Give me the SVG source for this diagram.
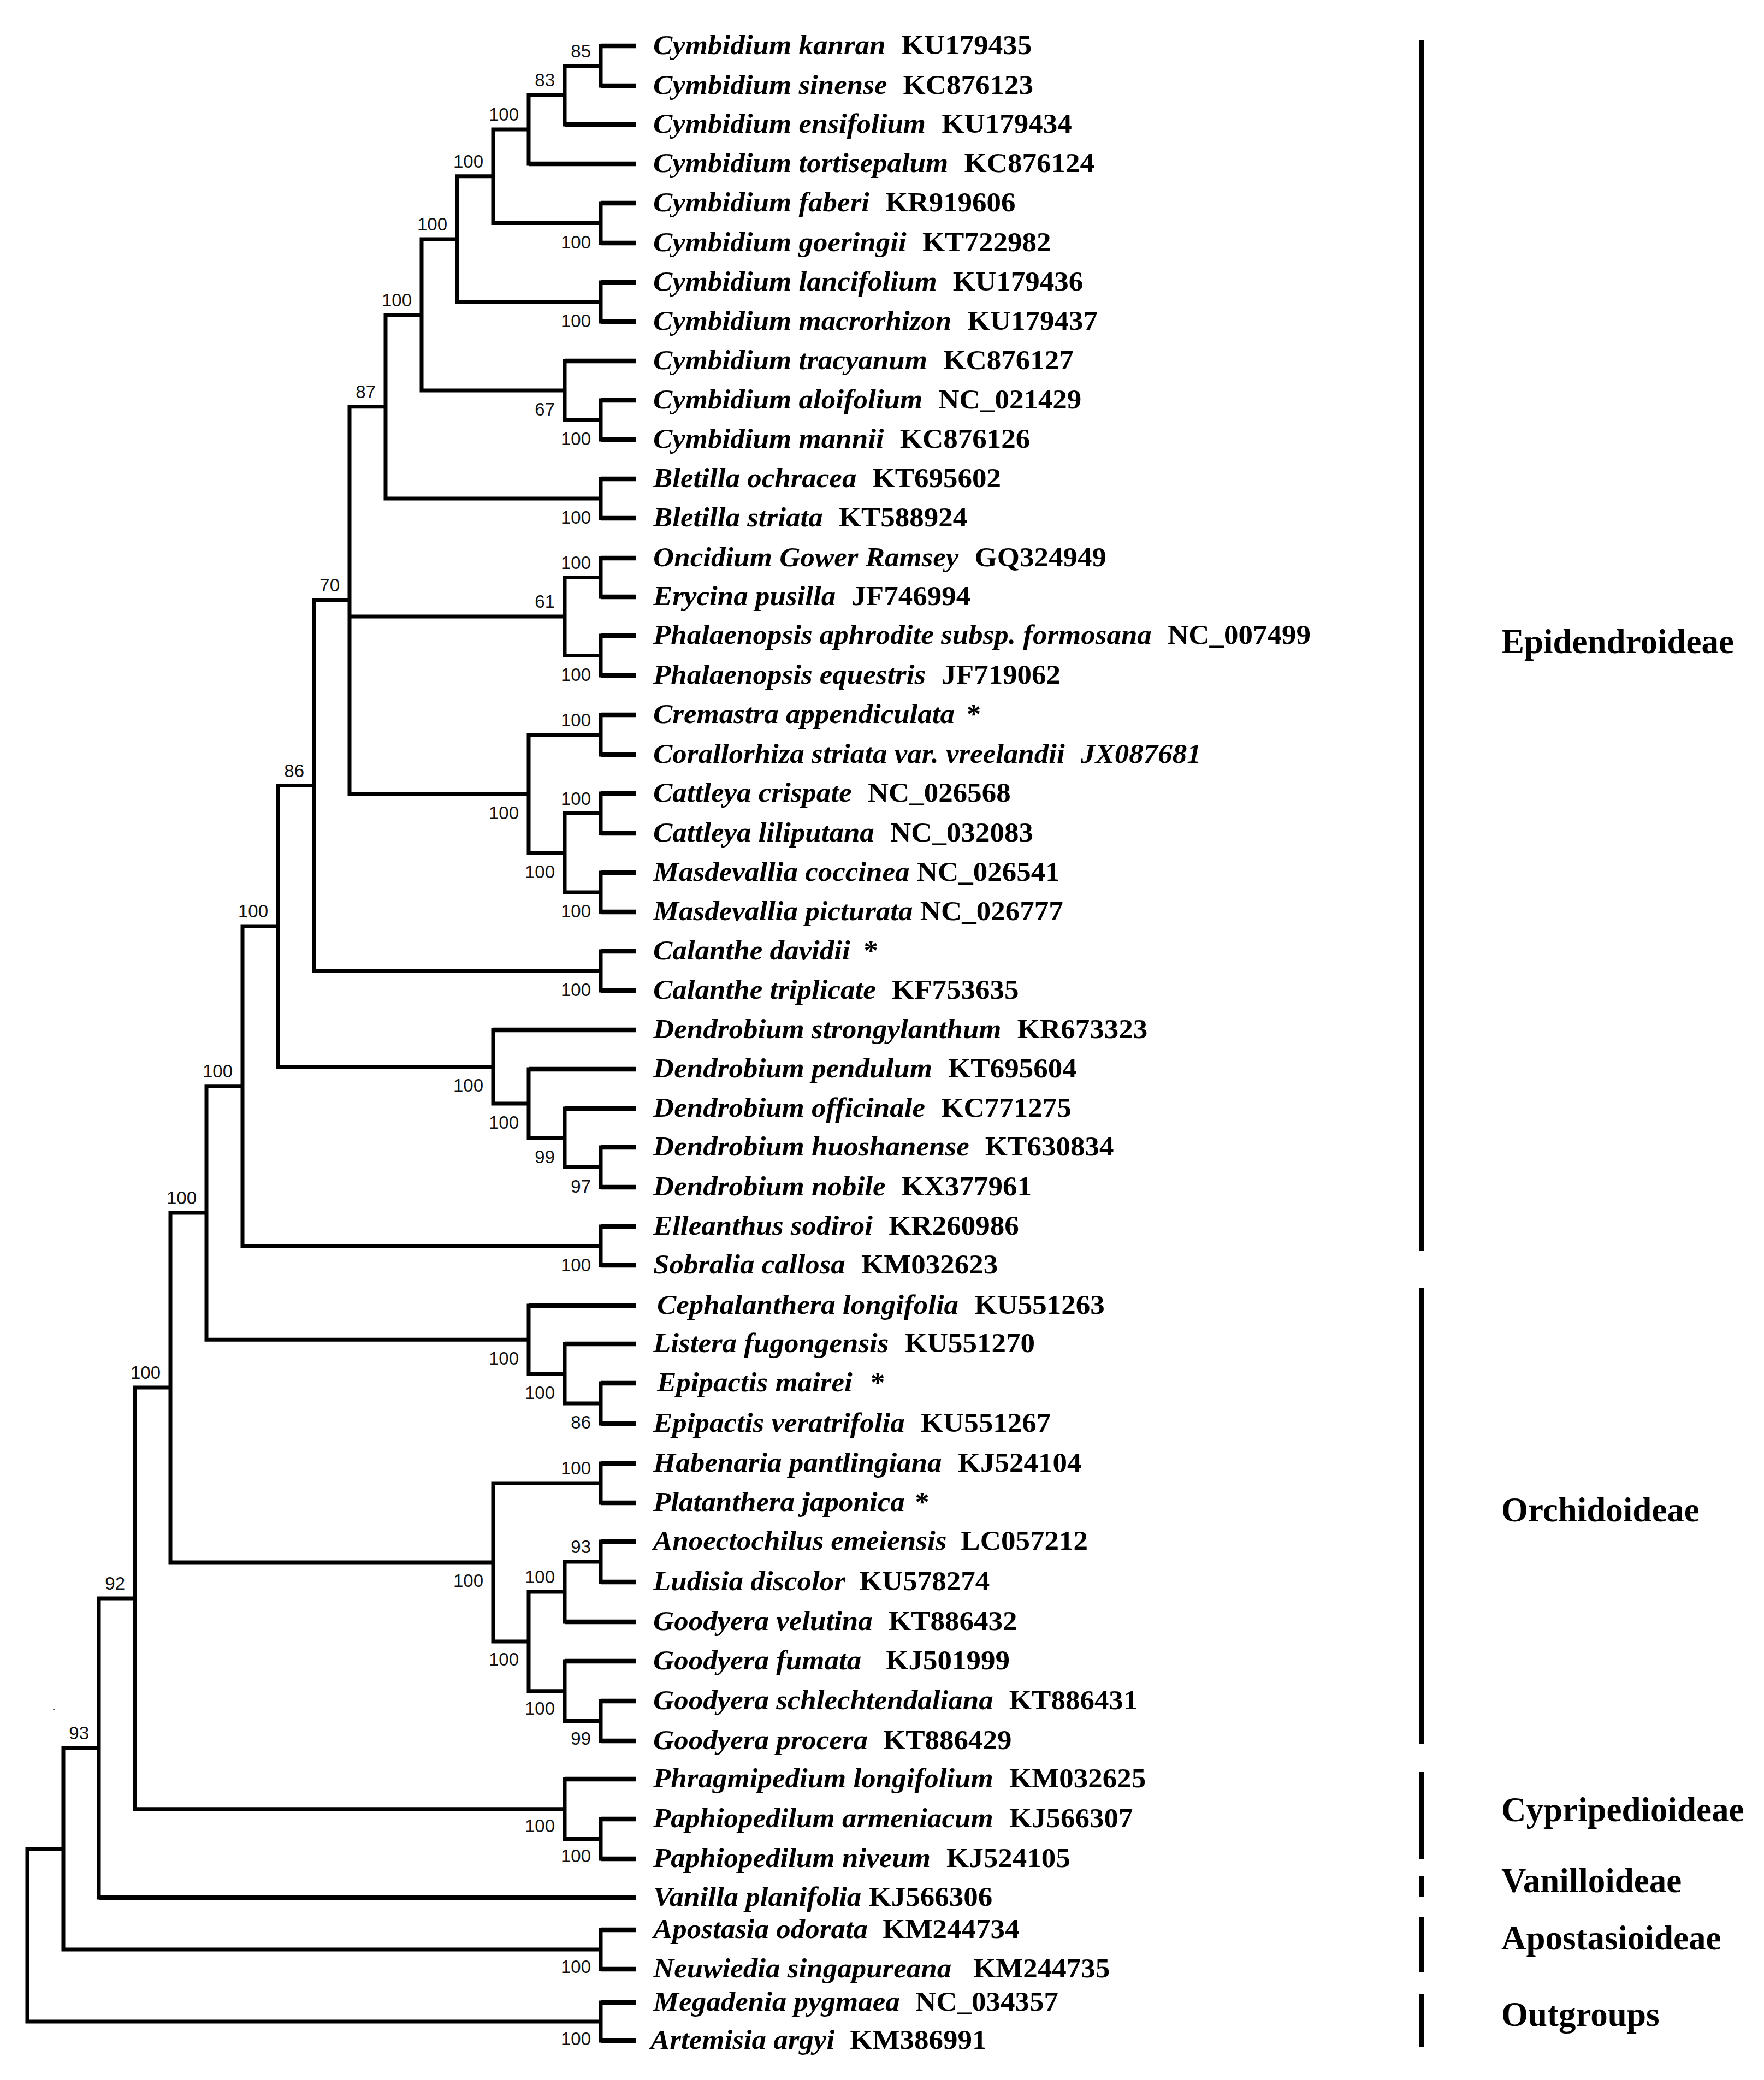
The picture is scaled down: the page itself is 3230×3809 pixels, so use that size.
<svg xmlns="http://www.w3.org/2000/svg" width="3230" height="3809" viewBox="0 0 3230 3809">
<style>
.br{fill:none;stroke:#000;stroke-width:7;stroke-linecap:square}
.tp{fill:none;stroke:#000;stroke-width:8.5;stroke-linecap:butt}
.bs{font-family:"Liberation Sans",Arial,sans-serif;font-size:33px;fill:#111;text-anchor:end}
.tl{font-family:"Liberation Serif","Times New Roman",serif;font-size:50px;font-weight:bold;fill:#000}
.sp{font-style:italic}
.acc{font-style:normal}
.grp{font-family:"Liberation Serif","Times New Roman",serif;font-size:63px;font-weight:bold;fill:#000}
.bk{fill:#000}
</style>
<rect width="3230" height="3809" fill="#fff"/>
<g id="connectors">
<path class="br" d="M1100 84V157 M1034 120.5V228 M1034 120.5H1100 M968 174.25V300 M968 174.25H1034 M1100 372V445 M903 237.1V408.5 M903 237.1H968 M903 408.5H1100 M1100 517V589 M837 322.8V553 M837 322.8H903 M837 553H1100 M1100 733V805 M1034 661V769 M1034 769H1100 M772 437.9V715 M772 437.9H837 M772 715H1034 M1100 877V949 M706 576.5V913 M706 576.5H772 M706 913H1100 M1100 1022V1093 M1100 1164V1237 M1034 1057.5V1200.5 M1034 1057.5H1100 M1034 1200.5H1100 M1100 1309V1382 M1100 1453V1526 M1100 1598V1670 M1034 1489.5V1634 M1034 1489.5H1100 M1034 1634H1100 M968 1345.5V1561.75 M968 1345.5H1100 M968 1561.75H1034 M640 744.7V1453.6 M640 744.7H706 M640 1129H1034 M640 1453.6H968 M1100 1742V1814 M575 1099.2V1778 M575 1099.2H640 M575 1778H1100 M1100 2101V2174 M1034 2030V2137.5 M1034 2137.5H1100 M968 1958V2083.75 M968 2083.75H1034 M903 1886V2020.9 M903 2020.9H968 M509 1438.6V1953.4 M509 1438.6H575 M509 1953.4H903 M1100 2246V2317 M444 1696V2281.5 M444 1696H509 M444 2281.5H1100 M1100 2533V2607 M1034 2461V2570 M1034 2570H1100 M968 2391V2515.5 M968 2515.5H1034 M378 1988.75V2453.25 M378 1988.75H444 M378 2453.25H968 M1100 2680V2752 M1100 2823V2897 M1034 2860V2970 M1034 2860H1100 M1100 3115V3188 M1034 3042V3151.5 M1034 3151.5H1100 M968 2915V3096.75 M968 2915H1034 M968 3096.75H1034 M903 2716V3005.9 M903 2716H1100 M903 3005.9H968 M312 2221V2861 M312 2221H378 M312 2861H903 M1100 3331V3404 M1034 3258V3367.5 M1034 3367.5H1100 M247 2541V3312.75 M247 2541H312 M247 3312.75H1034 M181 2926.9V3475 M181 2926.9H247 M1100 3534V3606 M116 3201V3570 M116 3201H181 M116 3570H1100 M1100 3667V3737 M50 3385.5V3702 M50 3385.5H116 M50 3702H1100"/>
<path class="tp" d="M1100 84H1164 M1100 157H1164 M1034 228H1164 M968 300H1164 M1100 372H1164 M1100 445H1164 M1100 517H1164 M1100 589H1164 M1034 661H1164 M1100 733H1164 M1100 805H1164 M1100 877H1164 M1100 949H1164 M1100 1022H1164 M1100 1093H1164 M1100 1164H1164 M1100 1237H1164 M1100 1309H1164 M1100 1382H1164 M1100 1453H1164 M1100 1526H1164 M1100 1598H1164 M1100 1670H1164 M1100 1742H1164 M1100 1814H1164 M903 1886H1164 M968 1958H1164 M1034 2030H1164 M1100 2101H1164 M1100 2174H1164 M1100 2246H1164 M1100 2317H1164 M968 2391H1164 M1034 2461H1164 M1100 2533H1164 M1100 2607H1164 M1100 2680H1164 M1100 2752H1164 M1100 2823H1164 M1100 2897H1164 M1034 2970H1164 M1034 3042H1164 M1100 3115H1164 M1100 3188H1164 M1034 3258H1164 M1100 3331H1164 M1100 3404H1164 M181 3475H1164 M1100 3534H1164 M1100 3606H1164 M1100 3667H1164 M1100 3737H1164"/>
<rect x="97" y="3129" width="3" height="3" fill="#555"/>
</g>
<g id="bootstrap">
<g id="node-A"><text class="bs" x="1082" y="104.5">85</text></g>
<g id="node-B"><text class="bs" x="1016" y="158">83</text></g>
<g id="node-C"><text class="bs" x="950" y="221">100</text></g>
<g id="node-D"><text class="bs" x="1082" y="454.5">100</text></g>
<g id="node-E"><text class="bs" x="885" y="306.8">100</text></g>
<g id="node-F"><text class="bs" x="1082" y="599">100</text></g>
<g id="node-G"><text class="bs" x="819" y="421.9">100</text></g>
<g id="node-H"><text class="bs" x="1082" y="815">100</text></g>
<g id="node-I"><text class="bs" x="1016" y="761">67</text></g>
<g id="node-J"><text class="bs" x="754" y="560.5">100</text></g>
<g id="node-K"><text class="bs" x="1082" y="959">100</text></g>
<g id="node-L"><text class="bs" x="688" y="728.7">87</text></g>
<g id="node-M"><text class="bs" x="1082" y="1041.5">100</text></g>
<g id="node-N"><text class="bs" x="1082" y="1246.5">100</text></g>
<g id="node-O"><text class="bs" x="1016" y="1113">61</text></g>
<g id="node-P"><text class="bs" x="1082" y="1329.5">100</text></g>
<g id="node-Q"><text class="bs" x="1082" y="1473.5">100</text></g>
<g id="node-R"><text class="bs" x="1082" y="1680">100</text></g>
<g id="node-S"><text class="bs" x="1016" y="1607.75">100</text></g>
<g id="node-U"><text class="bs" x="950" y="1499.6">100</text></g>
<g id="node-V"><text class="bs" x="622" y="1083.2">70</text></g>
<g id="node-W"><text class="bs" x="1082" y="1824">100</text></g>
<g id="node-X"><text class="bs" x="557" y="1422.6">86</text></g>
<g id="node-Dd"><text class="bs" x="1082" y="2183.5">97</text></g>
<g id="node-Dc"><text class="bs" x="1016" y="2129.75">99</text></g>
<g id="node-Db"><text class="bs" x="950" y="2066.9">100</text></g>
<g id="node-Da"><text class="bs" x="885" y="1999.4">100</text></g>
<g id="node-Y"><text class="bs" x="491" y="1680">100</text></g>
<g id="node-Z"><text class="bs" x="1082" y="2327.5">100</text></g>
<g id="node-AA"><text class="bs" x="426" y="1972.75">100</text></g>
<g id="node-Ep"><text class="bs" x="1082" y="2616">86</text></g>
<g id="node-Ls"><text class="bs" x="1016" y="2561.5">100</text></g>
<g id="node-Ce"><text class="bs" x="950" y="2499.25">100</text></g>
<g id="node-AB"><text class="bs" x="360" y="2205">100</text></g>
<g id="node-Hb"><text class="bs" x="1082" y="2700">100</text></g>
<g id="node-An"><text class="bs" x="1082" y="2844">93</text></g>
<g id="node-Gv"><text class="bs" x="1016" y="2899">100</text></g>
<g id="node-Gs"><text class="bs" x="1082" y="3195">99</text></g>
<g id="node-Gf"><text class="bs" x="1016" y="3140">100</text></g>
<g id="node-Gg"><text class="bs" x="950" y="3050">100</text></g>
<g id="node-Or"><text class="bs" x="885" y="2906">100</text></g>
<g id="node-AC"><text class="bs" x="294" y="2525">100</text></g>
<g id="node-Pa"><text class="bs" x="1082" y="3410">100</text></g>
<g id="node-Cy"><text class="bs" x="1016" y="3355">100</text></g>
<g id="node-AD"><text class="bs" x="229" y="2910.9">92</text></g>
<g id="node-AE"><text class="bs" x="163" y="3185">93</text></g>
<g id="node-Ap"><text class="bs" x="1082" y="3613">100</text></g>
<g id="node-Og"><text class="bs" x="1082" y="3745">100</text></g>
</g>
<g id="tips">
<g id="tip-01" transform="translate(1196,99) scale(1.06,1)"><text class="tl"><tspan class="sp">Cymbidium kanran</tspan> <tspan class="acc" dx="15">KU179435</tspan></text></g>
<g id="tip-02" transform="translate(1196,172) scale(1.06,1)"><text class="tl"><tspan class="sp">Cymbidium sinense</tspan> <tspan class="acc" dx="15">KC876123</tspan></text></g>
<g id="tip-03" transform="translate(1196,243) scale(1.06,1)"><text class="tl"><tspan class="sp">Cymbidium ensifolium</tspan> <tspan class="acc" dx="15">KU179434</tspan></text></g>
<g id="tip-04" transform="translate(1196,315) scale(1.06,1)"><text class="tl"><tspan class="sp">Cymbidium tortisepalum</tspan> <tspan class="acc" dx="15">KC876124</tspan></text></g>
<g id="tip-05" transform="translate(1196,387) scale(1.06,1)"><text class="tl"><tspan class="sp">Cymbidium faberi</tspan> <tspan class="acc" dx="15">KR919606</tspan></text></g>
<g id="tip-06" transform="translate(1196,460) scale(1.06,1)"><text class="tl"><tspan class="sp">Cymbidium goeringii</tspan> <tspan class="acc" dx="15">KT722982</tspan></text></g>
<g id="tip-07" transform="translate(1196,532) scale(1.06,1)"><text class="tl"><tspan class="sp">Cymbidium lancifolium</tspan> <tspan class="acc" dx="15">KU179436</tspan></text></g>
<g id="tip-08" transform="translate(1196,604) scale(1.06,1)"><text class="tl"><tspan class="sp">Cymbidium macrorhizon</tspan> <tspan class="acc" dx="15">KU179437</tspan></text></g>
<g id="tip-09" transform="translate(1196,676) scale(1.06,1)"><text class="tl"><tspan class="sp">Cymbidium tracyanum</tspan> <tspan class="acc" dx="15">KC876127</tspan></text></g>
<g id="tip-10" transform="translate(1196,748) scale(1.06,1)"><text class="tl"><tspan class="sp">Cymbidium aloifolium</tspan> <tspan class="acc" dx="15">NC_021429</tspan></text></g>
<g id="tip-11" transform="translate(1196,820) scale(1.06,1)"><text class="tl"><tspan class="sp">Cymbidium mannii</tspan> <tspan class="acc" dx="15">KC876126</tspan></text></g>
<g id="tip-12" transform="translate(1196,892) scale(1.06,1)"><text class="tl"><tspan class="sp">Bletilla ochracea</tspan> <tspan class="acc" dx="15">KT695602</tspan></text></g>
<g id="tip-13" transform="translate(1196,964) scale(1.06,1)"><text class="tl"><tspan class="sp">Bletilla striata</tspan> <tspan class="acc" dx="15">KT588924</tspan></text></g>
<g id="tip-14" transform="translate(1196,1037) scale(1.06,1)"><text class="tl"><tspan class="sp">Oncidium Gower Ramsey</tspan> <tspan class="acc" dx="15">GQ324949</tspan></text></g>
<g id="tip-15" transform="translate(1196,1108) scale(1.06,1)"><text class="tl"><tspan class="sp">Erycina pusilla</tspan> <tspan class="acc" dx="15">JF746994</tspan></text></g>
<g id="tip-16" transform="translate(1196,1179) scale(1.06,1)"><text class="tl"><tspan class="sp">Phalaenopsis aphrodite subsp. formosana</tspan> <tspan class="acc" dx="15">NC_007499</tspan></text></g>
<g id="tip-17" transform="translate(1196,1252) scale(1.06,1)"><text class="tl"><tspan class="sp">Phalaenopsis equestris</tspan> <tspan class="acc" dx="15">JF719062</tspan></text></g>
<g id="tip-18" transform="translate(1196,1324) scale(1.06,1)"><text class="tl"><tspan class="sp">Cremastra appendiculata</tspan> <tspan class="acc" dx="8">*</tspan></text></g>
<g id="tip-19" transform="translate(1196,1397) scale(1.06,1)"><text class="tl"><tspan class="sp">Corallorhiza striata var. vreelandii</tspan> <tspan class="sp" dx="15">JX087681</tspan></text></g>
<g id="tip-20" transform="translate(1196,1468) scale(1.06,1)"><text class="tl"><tspan class="sp">Cattleya crispate</tspan> <tspan class="acc" dx="15">NC_026568</tspan></text></g>
<g id="tip-21" transform="translate(1196,1541) scale(1.06,1)"><text class="tl"><tspan class="sp">Cattleya liliputana</tspan> <tspan class="acc" dx="15">NC_032083</tspan></text></g>
<g id="tip-22" transform="translate(1196,1613) scale(1.06,1)"><text class="tl"><tspan class="sp">Masdevallia coccinea</tspan> <tspan class="acc">NC_026541</tspan></text></g>
<g id="tip-23" transform="translate(1196,1685) scale(1.06,1)"><text class="tl"><tspan class="sp">Masdevallia picturata</tspan> <tspan class="acc">NC_026777</tspan></text></g>
<g id="tip-24" transform="translate(1196,1757) scale(1.06,1)"><text class="tl"><tspan class="sp">Calanthe davidii</tspan> <tspan class="acc" dx="11">*</tspan></text></g>
<g id="tip-25" transform="translate(1196,1829) scale(1.06,1)"><text class="tl"><tspan class="sp">Calanthe triplicate</tspan> <tspan class="acc" dx="15">KF753635</tspan></text></g>
<g id="tip-26" transform="translate(1196,1901) scale(1.06,1)"><text class="tl"><tspan class="sp">Dendrobium strongylanthum</tspan> <tspan class="acc" dx="15">KR673323</tspan></text></g>
<g id="tip-27" transform="translate(1196,1973) scale(1.06,1)"><text class="tl"><tspan class="sp">Dendrobium pendulum</tspan> <tspan class="acc" dx="15">KT695604</tspan></text></g>
<g id="tip-28" transform="translate(1196,2045) scale(1.06,1)"><text class="tl"><tspan class="sp">Dendrobium officinale</tspan> <tspan class="acc" dx="15">KC771275</tspan></text></g>
<g id="tip-29" transform="translate(1196,2116) scale(1.06,1)"><text class="tl"><tspan class="sp">Dendrobium huoshanense</tspan> <tspan class="acc" dx="15">KT630834</tspan></text></g>
<g id="tip-30" transform="translate(1196,2189) scale(1.06,1)"><text class="tl"><tspan class="sp">Dendrobium nobile</tspan> <tspan class="acc" dx="15">KX377961</tspan></text></g>
<g id="tip-31" transform="translate(1196,2261) scale(1.06,1)"><text class="tl"><tspan class="sp">Elleanthus sodiroi</tspan> <tspan class="acc" dx="15">KR260986</tspan></text></g>
<g id="tip-32" transform="translate(1196,2332) scale(1.06,1)"><text class="tl"><tspan class="sp">Sobralia callosa</tspan> <tspan class="acc" dx="15">KM032623</tspan></text></g>
<g id="tip-33" transform="translate(1203,2406) scale(1.06,1)"><text class="tl"><tspan class="sp">Cephalanthera longifolia</tspan> <tspan class="acc" dx="15">KU551263</tspan></text></g>
<g id="tip-34" transform="translate(1196,2476) scale(1.06,1)"><text class="tl"><tspan class="sp">Listera fugongensis</tspan> <tspan class="acc" dx="15">KU551270</tspan></text></g>
<g id="tip-35" transform="translate(1203,2548) scale(1.06,1)"><text class="tl"><tspan class="sp">Epipactis mairei</tspan> <tspan class="acc" dx="19">*</tspan></text></g>
<g id="tip-36" transform="translate(1196,2622) scale(1.06,1)"><text class="tl"><tspan class="sp">Epipactis veratrifolia</tspan> <tspan class="acc" dx="15">KU551267</tspan></text></g>
<g id="tip-37" transform="translate(1196,2695) scale(1.06,1)"><text class="tl"><tspan class="sp">Habenaria pantlingiana</tspan> <tspan class="acc" dx="15">KJ524104</tspan></text></g>
<g id="tip-38" transform="translate(1196,2767) scale(1.06,1)"><text class="tl"><tspan class="sp">Platanthera japonica</tspan> <tspan class="acc" dx="5">*</tspan></text></g>
<g id="tip-39" transform="translate(1196,2838) scale(1.06,1)"><text class="tl"><tspan class="sp">Anoectochilus emeiensis</tspan> <tspan class="acc" dx="12">LC057212</tspan></text></g>
<g id="tip-40" transform="translate(1196,2912) scale(1.06,1)"><text class="tl"><tspan class="sp">Ludisia discolor</tspan> <tspan class="acc" dx="12">KU578274</tspan></text></g>
<g id="tip-41" transform="translate(1196,2985) scale(1.06,1)"><text class="tl"><tspan class="sp">Goodyera velutina</tspan> <tspan class="acc" dx="15">KT886432</tspan></text></g>
<g id="tip-42" transform="translate(1196,3057) scale(1.06,1)"><text class="tl"><tspan class="sp">Goodyera fumata</tspan> <tspan class="acc" dx="30">KJ501999</tspan></text></g>
<g id="tip-43" transform="translate(1196,3130) scale(1.06,1)"><text class="tl"><tspan class="sp">Goodyera schlechtendaliana</tspan> <tspan class="acc" dx="15">KT886431</tspan></text></g>
<g id="tip-44" transform="translate(1196,3203) scale(1.06,1)"><text class="tl"><tspan class="sp">Goodyera procera</tspan> <tspan class="acc" dx="14">KT886429</tspan></text></g>
<g id="tip-45" transform="translate(1196,3273) scale(1.06,1)"><text class="tl"><tspan class="sp">Phragmipedium longifolium</tspan> <tspan class="acc" dx="15">KM032625</tspan></text></g>
<g id="tip-46" transform="translate(1196,3346) scale(1.06,1)"><text class="tl"><tspan class="sp">Paphiopedilum armeniacum</tspan> <tspan class="acc" dx="15">KJ566307</tspan></text></g>
<g id="tip-47" transform="translate(1196,3419) scale(1.06,1)"><text class="tl"><tspan class="sp">Paphiopedilum niveum</tspan> <tspan class="acc" dx="15">KJ524105</tspan></text></g>
<g id="tip-48" transform="translate(1196,3490) scale(1.06,1)"><text class="tl"><tspan class="sp">Vanilla planifolia</tspan> <tspan class="acc">KJ566306</tspan></text></g>
<g id="tip-49" transform="translate(1196,3549) scale(1.06,1)"><text class="tl"><tspan class="sp">Apostasia odorata</tspan> <tspan class="acc" dx="13">KM244734</tspan></text></g>
<g id="tip-50" transform="translate(1196,3621) scale(1.06,1)"><text class="tl"><tspan class="sp">Neuwiedia singapureana</tspan> <tspan class="acc" dx="25">KM244735</tspan></text></g>
<g id="tip-51" transform="translate(1196,3682) scale(1.06,1)"><text class="tl"><tspan class="sp">Megadenia pygmaea</tspan> <tspan class="acc" dx="14">NC_034357</tspan></text></g>
<g id="tip-52" transform="translate(1191,3752) scale(1.06,1)"><text class="tl"><tspan class="sp">Artemisia argyi</tspan> <tspan class="acc" dx="14">KM386991</tspan></text></g>
</g>
<g id="clades">
<g id="clade-epidendroideae"><rect class="bk" x="2599" y="73" width="8" height="2217"/><text class="grp" x="2749" y="1196">Epidendroideae</text></g>
<g id="clade-orchidoideae"><rect class="bk" x="2599" y="2358" width="8" height="835"/><text class="grp" x="2749" y="2786">Orchidoideae</text></g>
<g id="clade-cypripedioideae"><rect class="bk" x="2599" y="3245" width="8" height="159"/><text class="grp" x="2749" y="3335">Cypripedioideae</text></g>
<g id="clade-vanilloideae"><rect class="bk" x="2599" y="3436" width="8" height="38"/><text class="grp" x="2749" y="3465">Vanilloideae</text></g>
<g id="clade-apostasioideae"><rect class="bk" x="2599" y="3511" width="8" height="100"/><text class="grp" x="2749" y="3570">Apostasioideae</text></g>
<g id="clade-outgroups"><rect class="bk" x="2599" y="3652" width="8" height="96"/><text class="grp" x="2749" y="3710">Outgroups</text></g>
</g>
</svg>
